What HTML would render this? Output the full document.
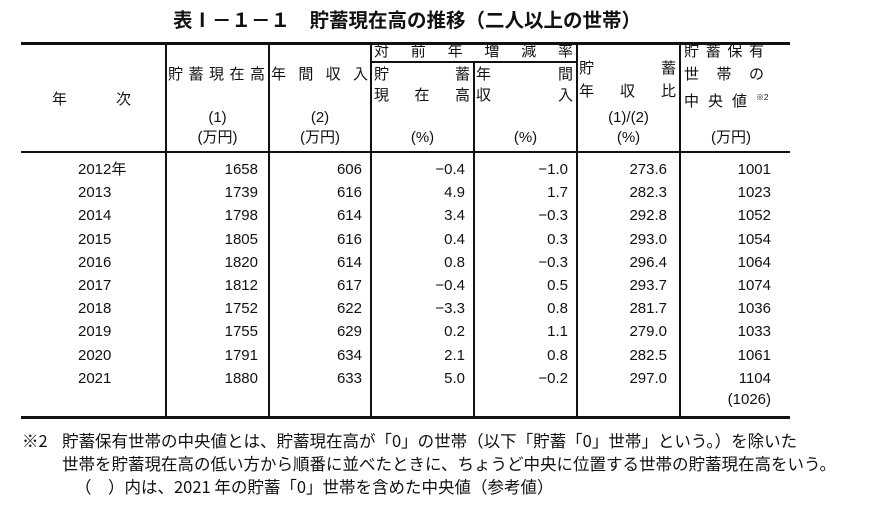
<!DOCTYPE html>
<html><head><meta charset="utf-8"><style>
body{margin:0;width:870px;height:509px;background:#fff;position:relative;overflow:hidden;font-family:"Liberation Sans","Noto Sans CJK JP",sans-serif;color:#111}
.t{position:absolute;font-size:15px;line-height:18px;white-space:nowrap}
.r{text-align:right}
.c{text-align:center}
.l{position:absolute;background:#111}
.j{display:flex;justify-content:space-between}
.n{font-family:"Liberation Sans Narrow","Liberation Sans",sans-serif;font-size:15px}
.f{font-family:'Noto Sans CJK JP',sans-serif;font-size:16.5px;line-height:20px}
</style></head><body>
<div class="t" style="left:-28px;width:870px;top:7px;text-align:center;font-size:19.5px;font-weight:bold;font-family:'Noto Sans CJK JP',sans-serif;line-height:24px">表Ⅰ－１－１　貯蓄現在高の推移（二人以上の世帯）</div>

<div class="l" style="left:21px;width:769px;top:42px;height:3px"></div>
<div class="l" style="left:21px;width:769px;top:151px;height:2px"></div>
<div class="l" style="left:21px;width:769px;top:416px;height:3px"></div>
<div class="l" style="left:371px;width:206px;top:61px;height:2px"></div>
<div class="l" style="left:165px;width:2px;top:44px;height:373px"></div>
<div class="l" style="left:268px;width:2px;top:44px;height:373px"></div>
<div class="l" style="left:370px;width:2px;top:44px;height:373px"></div>
<div class="l" style="left:473px;width:2px;top:62px;height:355px"></div>
<div class="l" style="left:576px;width:2px;top:44px;height:373px"></div>
<div class="l" style="left:679px;width:2px;top:44px;height:373px"></div>

<div class="t" style="left:52px;top:91px">年</div>
<div class="t" style="left:116px;top:91px">次</div>

<div class="t j" style="left:168px;width:97px;top:66px"><span>貯</span><span>蓄</span><span>現</span><span>在</span><span>高</span></div>
<div class="t c" style="left:167px;width:101px;top:109px">(1)</div>
<div class="t c" style="left:167px;width:101px;top:129px">(万円)</div>

<div class="t j" style="left:271px;width:97px;top:66px"><span>年</span><span>間</span><span>収</span><span>入</span></div>
<div class="t c" style="left:270px;width:100px;top:109px">(2)</div>
<div class="t c" style="left:270px;width:100px;top:129px">(万円)</div>

<div class="t j" style="left:374px;width:199px;top:43px"><span>対</span><span>前</span><span>年</span><span>増</span><span>減</span><span>率</span></div>
<div class="t j" style="left:374px;width:96px;top:66px"><span>貯</span><span>蓄</span></div>
<div class="t j" style="left:374px;width:96px;top:87px"><span>現</span><span>在</span><span>高</span></div>
<div class="t c" style="left:372px;width:101px;top:129px">(%)</div>
<div class="t j" style="left:476px;width:97px;top:66px"><span>年</span><span>間</span></div>
<div class="t j" style="left:476px;width:97px;top:87px"><span>収</span><span>入</span></div>
<div class="t c" style="left:475px;width:101px;top:129px">(%)</div>

<div class="t j" style="left:579px;width:97px;top:60px"><span>貯</span><span>蓄</span></div>
<div class="t j" style="left:579px;width:97px;top:83px"><span>年</span><span>収</span><span>比</span></div>
<div class="t c" style="left:578px;width:101px;top:109px">(1)/(2)</div>
<div class="t c" style="left:578px;width:101px;top:129px">(%)</div>

<div class="t j" style="left:684px;width:80px;top:43px"><span>貯</span><span>蓄</span><span>保</span><span>有</span></div>
<div class="t j" style="left:684px;width:80px;top:66px"><span>世</span><span>帯</span><span>の</span></div>
<div class="t" style="left:684px;top:89px;letter-spacing:9px">中央値<sup style="font-size:8px;letter-spacing:0">※2</sup></div>
<div class="t c" style="left:681px;width:100px;top:129px">(万円)</div>

<div id="rows"></div>
<div class="t n r" style="left:690px;width:81px;top:391px">(1026)</div>

<div class="t f" style="left:22px;top:430px">※2</div>
<div class="t f" style="left:62px;top:430px">貯蓄保有世帯の中央値とは、貯蓄現在高が「0」の世帯（以下「貯蓄「0」世帯」という。）を除いた</div>
<div class="t f" style="left:62px;top:453px">世帯を貯蓄現在高の低い方から順番に並べたときに、ちょうど中央に位置する世帯の貯蓄現在高をいう。</div>
<div class="t f" style="left:75px;top:476px">（　）内は、2021 年の貯蓄「0」世帯を含めた中央値（参考値）</div>

<script>
var d=[["2012年",1658,606,"-0.4","-1.0","273.6",1001],["2013",1739,616,"4.9","1.7","282.3",1023],["2014",1798,614,"3.4","-0.3","292.8",1052],["2015",1805,616,"0.4","0.3","293.0",1054],["2016",1820,614,"0.8","-0.3","296.4",1064],["2017",1812,617,"-0.4","0.5","293.7",1074],["2018",1752,622,"-3.3","0.8","281.7",1036],["2019",1755,629,"0.2","1.1","279.0",1033],["2020",1791,634,"2.1","0.8","282.5",1061],["2021",1880,633,"5.0","-0.2","297.0",1104]];
var rights=[258,362,465,568,667,771],h="";
d.forEach(function(r,i){var y=161+i*23.2;
h+='<div class="t n" style="left:78px;top:'+y+'px">'+r[0]+'</div>';
for(var k=1;k<7;k++){h+='<div class="t n r" style="left:'+(rights[k-1]-90)+'px;width:90px;top:'+y+'px">'+String(r[k]).replace("-","−")+'</div>';}});
document.getElementById("rows").innerHTML=h;
</script>
</body></html>
